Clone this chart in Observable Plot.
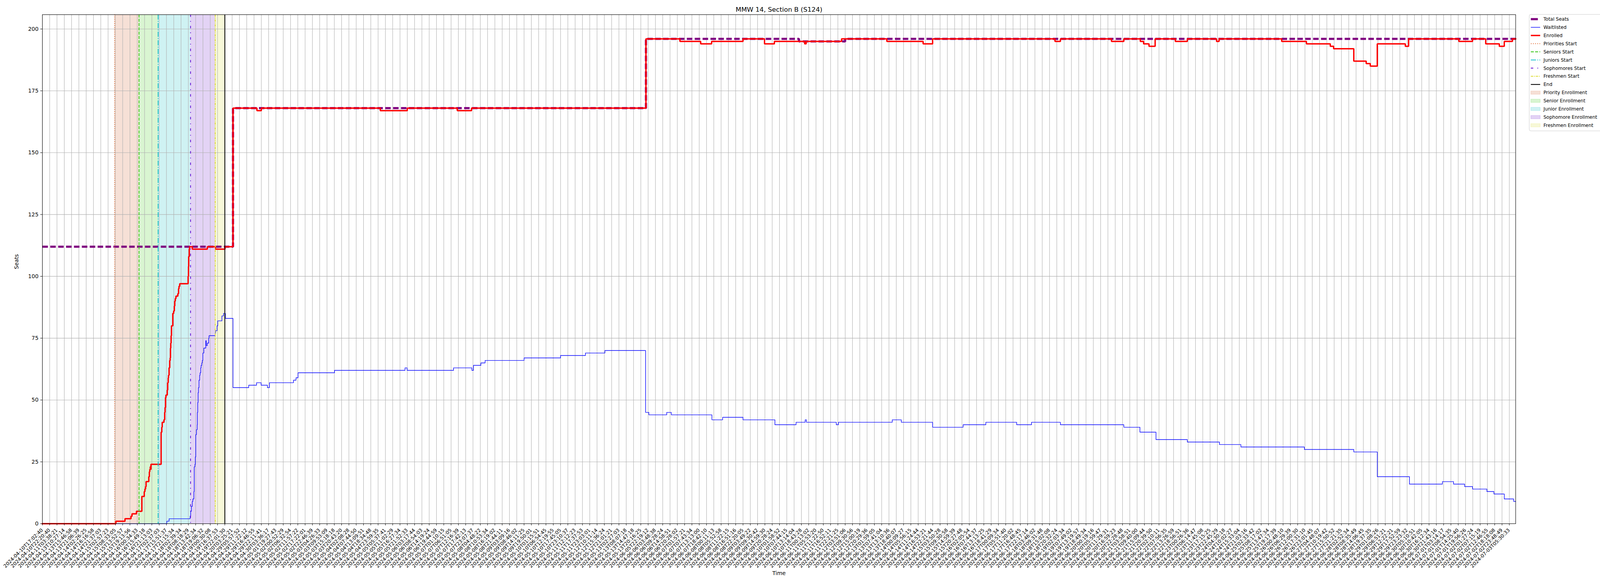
<!DOCTYPE html>
<html>
<head>
<meta charset="utf-8">
<script src="https://cdn.jsdelivr.net/npm/d3@7"></script>
<script src="https://cdn.jsdelivr.net/npm/@observablehq/plot@0.6"></script>
<style>
html, body { margin: 0; padding: 0; background: #fff; overflow: hidden; }
#chart { position: relative; }
#chart svg { display: block; max-width: none; }
</style>
</head>
<body>
<div id="chart"></div>
<script>
// ---------- DATA (x positions are in tick-index units) ----------
const tickLabels = [
"2024-04-10T17:02:40","2024-04-10T22:20:40","2024-04-11T03:38:21","2024-04-13T10:27:14","2024-04-13T15:46:58",
"2024-04-13T21:06:39","2024-04-14T02:26:25","2024-04-14T16:16:58","2024-04-14T21:37:03","2024-04-15T02:57:23",
"2024-04-15T08:33:05","2024-04-15T13:52:57","2024-04-15T19:13:56","2024-04-16T00:34:33","2024-04-16T15:49:18",
"2024-04-16T21:13:03","2024-04-17T02:37:03","2024-04-17T15:51:37","2024-04-17T21:15:34","2024-04-18T02:39:34",
"2024-04-18T08:18:29","2024-04-18T13:42:34","2024-04-18T19:06:32","2024-04-19T00:30:08","2024-04-19T16:37:53",
"2024-04-19T22:01:30","2024-04-20T03:25:21","2024-04-29T05:57:52","2024-04-29T11:22:12","2024-04-29T16:46:55",
"2024-04-29T22:11:41","2024-04-30T03:36:17","2024-05-01T19:27:43","2024-05-02T00:52:29","2024-05-02T06:32:54",
"2024-05-02T11:57:22","2024-05-02T17:22:01","2024-05-02T22:46:39","2024-05-03T04:26:33","2024-05-03T09:53:09",
"2024-05-03T15:18:18","2024-05-03T20:43:20","2024-05-04T02:08:28","2024-05-04T07:44:50","2024-05-04T13:09:51",
"2024-05-04T18:34:48","2024-05-04T23:59:35","2024-05-05T05:37:41","2024-05-05T11:02:29","2024-05-05T16:27:34",
"2024-05-05T21:52:33","2024-05-06T03:17:44","2024-05-06T08:54:03","2024-05-06T14:19:24","2024-05-06T19:44:59",
"2024-05-07T01:10:15","2024-05-07T06:51:05","2024-05-07T12:16:39","2024-05-07T17:42:13","2024-05-07T23:07:37",
"2024-05-08T04:48:22","2024-05-08T10:53:34","2024-05-08T16:19:02","2024-05-08T21:44:11","2024-05-09T03:09:16",
"2024-05-09T08:46:02","2024-05-09T14:11:25","2024-05-09T19:50:01","2024-05-10T01:15:51","2024-05-10T06:54:45",
"2024-05-10T12:19:55","2024-05-10T17:45:05","2024-05-10T23:10:37","2024-05-11T12:12:23","2024-05-11T17:37:53",
"2024-05-11T23:03:01","2024-05-12T10:11:14","2024-05-12T15:36:24","2024-05-12T21:01:21","2024-05-13T02:27:03",
"2024-05-13T08:07:18","2024-05-13T14:47:18","2024-05-13T20:16:25","2024-06-05T22:19:12","2024-06-06T03:48:38",
"2024-06-06T09:28:24","2024-06-06T14:58:51","2024-06-06T20:28:02","2024-06-07T01:57:21","2024-06-07T07:43:34",
"2024-06-07T13:13:00","2024-06-07T18:42:10","2024-06-08T00:11:13","2024-06-08T05:52:58","2024-06-08T11:22:15",
"2024-06-08T16:51:16","2024-06-08T22:20:05","2024-06-09T03:49:22","2024-06-09T09:30:42","2024-06-09T14:59:30",
"2024-06-09T20:28:24","2024-06-10T01:58:52","2024-06-10T07:44:15","2024-06-10T13:14:04","2024-06-10T18:43:28",
"2024-06-11T00:13:02","2024-06-11T05:53:20","2024-06-11T11:22:50","2024-06-11T16:52:11","2024-06-11T22:21:25",
"2024-06-12T03:51:06","2024-06-12T09:30:56","2024-06-12T15:00:19","2024-06-12T20:29:36","2024-06-13T01:59:05",
"2024-06-13T07:41:04","2024-06-13T13:10:36","2024-06-13T18:40:07","2024-06-14T00:09:27","2024-06-14T05:56:15",
"2024-06-14T11:24:44","2024-06-14T16:53:21","2024-06-14T22:21:44","2024-06-15T03:50:28","2024-06-15T09:30:58",
"2024-06-15T14:59:39","2024-06-15T20:27:48","2024-06-16T02:05:54","2024-06-16T07:44:37","2024-06-16T13:13:25",
"2024-06-16T18:41:29","2024-06-17T00:09:34","2024-06-17T05:51:40","2024-06-17T11:20:02","2024-06-17T16:48:45",
"2024-06-17T22:17:14","2024-06-18T03:46:02","2024-06-18T09:31:48","2024-06-18T15:02:08","2024-06-18T20:32:24",
"2024-06-19T02:03:34","2024-06-19T07:49:02","2024-06-19T13:19:57","2024-06-19T18:49:34","2024-06-20T00:19:16",
"2024-06-20T05:59:47","2024-06-20T11:29:31","2024-06-20T16:59:23","2024-06-20T22:28:48","2024-06-21T03:58:51",
"2024-06-21T09:40:00","2024-06-21T15:09:44","2024-06-21T20:39:50","2024-06-22T02:10:11","2024-06-22T07:56:35",
"2024-06-22T13:26:59","2024-06-22T18:56:51","2024-06-23T00:26:36","2024-06-23T06:14:47","2024-06-23T11:45:08",
"2024-06-23T17:15:25","2024-06-23T22:45:29","2024-06-24T04:30:18","2024-06-24T10:02:27","2024-06-24T15:33:04",
"2024-06-24T21:03:16","2024-06-25T02:33:42","2024-06-25T08:17:02","2024-06-25T13:47:34","2024-06-25T19:17:39",
"2024-06-26T00:48:10","2024-06-26T06:29:39","2024-06-26T12:00:30","2024-06-26T17:31:10","2024-06-26T23:01:45",
"2024-06-27T04:48:07","2024-06-27T10:19:42","2024-06-27T15:50:52","2024-06-27T21:21:35","2024-06-28T02:52:34",
"2024-06-28T08:35:49","2024-06-28T14:06:45","2024-06-28T19:37:35","2024-06-29T01:08:26","2024-06-29T06:51:21",
"2024-06-29T12:22:21","2024-06-29T17:52:59","2024-06-29T23:23:32","2024-06-30T05:10:51","2024-06-30T10:42:05",
"2024-06-30T16:12:34","2024-06-30T21:43:16","2024-07-01T03:14:17","2024-07-01T08:54:35","2024-07-01T14:25:40",
"2024-07-01T19:56:26","2024-07-02T01:27:24","2024-07-02T07:15:19","2024-07-02T12:46:55","2024-07-02T18:18:08",
"2024-07-02T23:48:49","2024-07-03T05:30:33"
];
const lastIndex = 201.87;

// [position, seats] change points (step-after)
const totalSeats = [[0,112],[26.12,168],[82.7,196],[103.67,195],[110.0,196]];

const enrolled = [
[0,0],[10.07,1],[11.32,2],[12.14,3],[12.28,4],[12.89,5],[13.63,11],[13.96,13],[14.05,14],[14.14,15],
[14.21,17],[14.58,19],[14.66,21],[14.72,22],[14.78,23],[14.82,22],[14.88,24],[16.27,37],[16.36,39],[16.42,41],
[16.66,42],[16.76,45],[16.81,47],[16.87,51],[16.93,52],[17.11,54],[17.17,57],[17.24,59],[17.28,60],[17.36,63],
[17.45,66],[17.51,67],[17.55,71],[17.59,73],[17.64,76],[17.69,80],[17.87,85],[17.99,86],[18.08,88],[18.14,90],
[18.21,91],[18.3,92],[18.56,93],[18.66,95],[18.72,96],[18.82,97],[19.97,100],[20.02,104],[20.05,108],[20.13,111],
[20.18,112],[20.54,111],[22.6,112],[23.72,111],[25.02,112],[26.12,168],[29.4,167],[30.0,168],[46.3,167],[50.0,168],
[56.85,167],[58.8,168],[82.7,196],[87.36,195],[90.2,194],[91.7,195],[96.0,196],[98.95,194],[100.3,195],[104.45,194],
[104.65,195],[109.5,196],[115.71,195],[120.68,194],[121.98,196],[138.75,195],[139.49,196],[146.49,195],[148.18,196],[150.44,195],
[150.89,194],[151.63,193],[152.47,196],[155.24,195],[156.88,196],[160.89,195],[161.23,196],[169.81,195],[173.2,194],[176.47,193],
[176.93,192],[179.69,187],[181.39,186],[181.95,185],[182.91,194],[186.75,193],[187.2,196],[194.09,195],[195.96,196],[197.77,194],
[199.63,193],[200.31,195],[201.43,196]
];

const waitlisted = [
[0,0],[17.05,1],[17.36,2],[20.24,3],[20.32,5],[20.42,7],[20.54,9],[20.62,10],[20.76,13],[20.81,23],
[20.9,24],[20.96,27],[21.02,36],[21.11,38],[21.21,40],[21.24,45],[21.29,49],[21.34,53],[21.39,55],[21.46,58],
[21.55,60],[21.61,61],[21.69,63],[21.75,64],[21.84,65],[21.91,66],[21.99,69],[22.12,71],[22.39,74],[22.45,72],
[22.6,73],[22.79,75],[22.84,76],[23.67,77],[23.72,78],[23.93,80],[24.03,82],[24.6,84],[24.82,85],[25.08,83],
[26.12,55],[28.27,56],[29.35,57],[29.97,56],[30.83,55],[31.11,57],[34.41,58],[34.75,59],[35.03,61],[40.03,62],
[49.69,63],[49.97,62],[56.34,63],[58.85,62],[59.07,64],[60.09,65],[60.66,66],[66.0,67],[71.0,68],[74.41,69],
[77.08,70],[82.65,45],[83.1,44],[85.55,45],[86.17,44],[91.74,42],[93.21,43],[96.0,42],[100.37,40],[103.27,41],
[104.52,42],[104.69,41],[108.78,40],[109.07,41],[116.45,42],[117.69,41],[121.98,39],[126.16,40],[129.27,41],[133.5,40],
[135.53,41],[139.49,40],[148.18,39],[150.39,37],[152.59,34],[156.88,33],[161.28,32],[164.22,31],[172.92,30],[179.69,29],
[182.91,19],[187.32,16],[191.83,17],[193.36,16],[194.88,15],[195.96,14],[197.93,13],[198.89,12],[200.31,10],[201.6,9]
];

const phaseNames = ["Priorities Start","Seniors Start","Juniors Start","Sophomores Start","Freshmen Start"];
const phaseStarts = [9.9, 13.24, 15.86, 20.3, 23.68];
const endIndex = 25.0;
const bandNames = ["Priority Enrollment","Senior Enrollment","Junior Enrollment","Sophomore Enrollment","Freshmen Enrollment"];
const yMax = 205.8;
const yTicks = [0,25,50,75,100,125,150,175,200];

// ---------- STYLES / LAYOUT ----------
const phaseColors = ["#e2703a","#40c820","#12c0cc","#6e20d8","#dcdc30"];
const bandFills = ["#f6e0d6","#d9f5d1","#cff2f3","#e3d3f5","#f7f8d8"];
const phaseDash = ["2.1,3.4","7.7,3.3","13.3,3.3,2.1,3.3","6.25,10.4,2.1,10.4","6.25,2.1,2.1,2.1"];
const FS = 13.9;
const XFS = 12.5;
// the design is 6000x1500; it is laid out over whatever window is really available
const VW = window.innerWidth || 6000, VH = window.innerHeight || 1500;
const kx = VW / 6000, ky = VH / 1500;
const mLeft = Math.max(132 * kx, 108);

function steps(arr) {
  const rows = arr.map(([x, y]) => ({x, y}));
  rows.push({x: lastIndex, y: arr[arr.length - 1][1]});
  return rows;
}
const bandEnds = phaseStarts.slice(1).concat([endIndex]);

const marks = [];
phaseStarts.forEach((s, i) => {
  marks.push(Plot.rect([{x1: s, x2: bandEnds[i]}], {x1: "x1", x2: "x2", y1: 0, y2: yMax, fill: bandFills[i]}));
});
marks.push(Plot.gridX(d3.range(tickLabels.length), {stroke: "#b0b0b0", strokeOpacity: 1, strokeWidth: 1.1}));
marks.push(Plot.gridY(yTicks, {stroke: "#b0b0b0", strokeOpacity: 1, strokeWidth: 1.1}));
marks.push(Plot.line(steps(totalSeats), {x: "x", y: "y", curve: "step-after", stroke: "purple", strokeWidth: 5.5,
  strokeDasharray: `${(20.6 * kx).toFixed(1)},${(8.9 * kx).toFixed(1)}`, strokeLinecap: "butt", strokeLinejoin: "miter"}));
marks.push(Plot.line(steps(waitlisted), {x: "x", y: "y", curve: "step-after", stroke: "blue", strokeWidth: 1.4, strokeLinecap: "square", strokeLinejoin: "miter"}));
marks.push(Plot.line(steps(enrolled), {x: "x", y: "y", curve: "step-after", stroke: "red", strokeWidth: 3.5, strokeLinecap: "square", strokeLinejoin: "miter"}));
phaseStarts.forEach((s, i) => {
  marks.push(Plot.ruleX([s], {stroke: phaseColors[i], strokeWidth: 2.1, strokeDasharray: phaseDash[i], strokeLinecap: "butt"}));
});
marks.push(Plot.ruleX([endIndex], {stroke: "black", strokeWidth: 2.1}));
marks.push(Plot.frame({stroke: "black", strokeWidth: 1.1}));
marks.push(Plot.axisY({ticks: yTicks, tickSize: 5, tickPadding: 5, fontSize: FS, label: null}));
marks.push(Plot.axisX({ticks: d3.range(tickLabels.length), tickSize: 5, tickFormat: () => "", label: null}));
marks.push(Plot.text(d3.range(tickLabels.length), {
  x: d => d, text: d => tickLabels[d], frameAnchor: "bottom", dy: 11 * ky, dx: -4,
  rotate: -45, textAnchor: "end", lineAnchor: "top", fontSize: XFS, fill: "black"
}));
marks.push(Plot.text(["MMW 14, Section B (S124)"], {frameAnchor: "top", dy: -8 * ky, lineAnchor: "bottom", fontSize: 16.7, fill: "black"}));
marks.push(Plot.text(["Seats"], {frameAnchor: "left", dx: -(mLeft - 42), rotate: -90, fontSize: FS, fill: "black"}));
marks.push(Plot.text(["Time"], {frameAnchor: "bottom", dy: 131 * ky, fontSize: FS, fill: "black"}));

const chart = Plot.plot({
  width: VW, height: VH,
  marginLeft: mLeft, marginRight: 317 * kx, marginTop: 37 * ky, marginBottom: 160 * ky,
  x: {domain: [0, lastIndex]},
  y: {domain: [0, yMax]},
  style: {fontFamily: "DejaVu Sans", background: "white", color: "black", overflow: "hidden"},
  marks
});
document.getElementById("chart").appendChild(chart);

// ---------- LEGEND (drawn into the same SVG, right of the axes) ----------
const LFS = Math.min(13.9, 12 / 0.683 * kx);
const svg = d3.select(chart);
const lg = svg.append("g").attr("font-family", "DejaVu Sans").attr("font-size", LFS).attr("text-anchor", "start");
const LX = VW - 15.1 * LFS, LY = 37 * ky, rowY0 = 49 * ky, rowDY = 20.9 * ky;
const hx1 = LX + 4, hx2 = LX + 2 * LFS + 4, tx = hx2 + 0.7 * LFS;
lg.append("rect").attr("x", LX).attr("y", LY).attr("width", VW - LX + 6).attr("height", 298 * ky)
  .attr("rx", 4).attr("fill", "white").attr("fill-opacity", 0.8).attr("stroke", "#cccccc");
const legendItems = [
  {name: "Total Seats", kind: "line", color: "purple", width: 5.5, dash: `${(1.5 * LFS).toFixed(1)},${LFS}`},
  {name: "Waitlisted", kind: "line", color: "blue", width: 1.4, dash: null},
  {name: "Enrolled", kind: "line", color: "red", width: 3.5, dash: null}
].concat(phaseNames.map((n, i) => ({name: n, kind: "line", color: phaseColors[i], width: 2.1, dash: phaseDash[i]})))
 .concat([{name: "End", kind: "line", color: "black", width: 2.1, dash: null}])
 .concat(bandNames.map((n, i) => ({name: n, kind: "rect", color: bandFills[i], edge: phaseColors[i]})));
legendItems.forEach((it, i) => {
  const cy = rowY0 + rowDY * i;
  if (it.kind === "line") {
    const ln = lg.append("line").attr("x1", hx1).attr("x2", hx2).attr("y1", cy).attr("y2", cy)
      .attr("stroke", it.color).attr("stroke-width", it.width);
    if (it.dash) ln.attr("stroke-dasharray", it.dash);
  } else {
    lg.append("rect").attr("x", hx1).attr("y", cy - 0.35 * LFS).attr("width", hx2 - hx1).attr("height", 0.7 * LFS)
      .attr("fill", it.color).attr("stroke", it.edge).attr("stroke-opacity", 0.25);
  }
  lg.append("text").attr("x", tx).attr("y", cy).attr("dy", "0.35em").attr("text-anchor", "start")
    .attr("fill", "black").text(it.name);
});
</script>
</body>
</html>
